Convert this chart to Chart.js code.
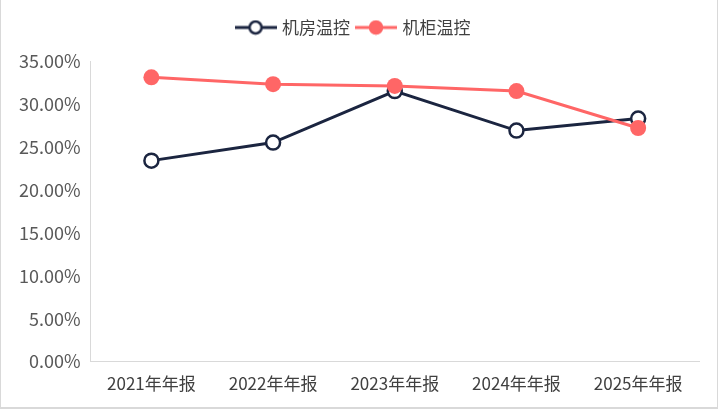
<!DOCTYPE html>
<html>
<head>
<meta charset="utf-8">
<script src="https://cdn.jsdelivr.net/npm/chart.js@4"></script>
<style>
  html, body { margin: 0; padding: 0; background: #fff; }
  #wrap { position: relative; width: 716px; height: 407px; border: 1px solid #d9d9d9; border-width: 0 2px 2px 1px; }
</style>
</head>
<body>
<div id="wrap"><canvas id="lineChart"></canvas></div>
<script>
const categories = ['2021年年报', '2022年年报', '2023年年报', '2024年年报', '2025年年报'];
const roomValues = [23.4, 25.5, 31.5, 26.9, 28.3];     // 机房温控
const cabinetValues = [33.1, 32.3, 32.1, 31.5, 27.2];  // 机柜温控
const yTicks = [0, 5, 10, 15, 20, 25, 30, 35];

const navy = '#1b2540';
const red = '#ff6666';
const fontFamily = '"Microsoft YaHei", "Noto Sans CJK SC", "Noto Sans", sans-serif';

// legend marker: line with a circle in the middle
function legendIcon(color, filled) {
  const c = document.createElement('canvas');
  c.width = 42; c.height = 16;
  const g = c.getContext('2d');
  g.strokeStyle = color;
  g.lineWidth = 3;
  g.beginPath(); g.moveTo(0, 8); g.lineTo(42, 8); g.stroke();
  g.beginPath(); g.arc(21, 8, 6, 0, Math.PI * 2);
  g.fillStyle = filled ? color : '#fff';
  g.fill();
  g.lineWidth = 2.5;
  g.stroke();
  return c;
}

// extra room under the legend
const legendGap = {
  id: 'legendGap',
  beforeInit(chart) {
    const fit = chart.legend.fit;
    chart.legend.fit = function () {
      fit.call(this);
      this.height += 15;
    };
  }
};

const ctxLine = document.getElementById('lineChart');

new Chart(ctxLine, {
  type: 'line',
  plugins: [legendGap],
  data: {
    labels: categories,
    datasets: [{
      label: '机房温控',
      data: roomValues,
      borderColor: navy,
      backgroundColor: '#fff',
      borderWidth: 3,
      pointRadius: 7,
      pointBorderWidth: 2.5,
      pointHoverRadius: 7,
      fill: false,
      order: 2
    }, {
      label: '机柜温控',
      data: cabinetValues,
      borderColor: red,
      backgroundColor: red,
      borderWidth: 3,
      pointRadius: 8,
      pointBorderWidth: 0,
      pointHoverRadius: 8,
      fill: false,
      order: 1
    }]
  },
  options: {
    responsive: true,
    maintainAspectRatio: false,
    animation: false,
    layout: { padding: { left: 8, right: 18, top: 11, bottom: 1 } },
    plugins: {
      tooltip: { enabled: false },
      legend: {
        position: 'top',
        labels: {
          usePointStyle: true,
          pointStyleWidth: 36,
          font: { family: fontFamily, size: 17 },
          color: '#404040',
          padding: 8,
          boxHeight: 16,
          generateLabels: chart => chart.data.datasets.map((ds, i) => ({
            text: ds.label,
            datasetIndex: i,
            pointStyle: legendIcon(ds.borderColor, i === 1),
            fontColor: '#404040',
            strokeStyle: ds.borderColor,
            fillStyle: ds.backgroundColor,
            lineWidth: 0
          }))
        }
      }
    },
    scales: {
      y: {
        min: 0,
        max: 35,
        afterBuildTicks: axis => { axis.ticks = yTicks.map(v => ({ value: v })); },
        ticks: {
          color: '#595959',
          font: { family: fontFamily, size: 18 },
          padding: 10,
          callback: v => v.toFixed(2) + '%'
        },
        grid: { display: false, drawTicks: false },
        border: { color: '#d9d9d9', width: 1 }
      },
      x: {
        offset: true,
        ticks: {
          color: '#404040',
          font: { family: fontFamily, size: 17 },
          padding: 12
        },
        grid: { display: false, drawTicks: false },
        border: { color: '#d9d9d9', width: 1 }
      }
    }
  }
});
</script>
</body>
</html>
